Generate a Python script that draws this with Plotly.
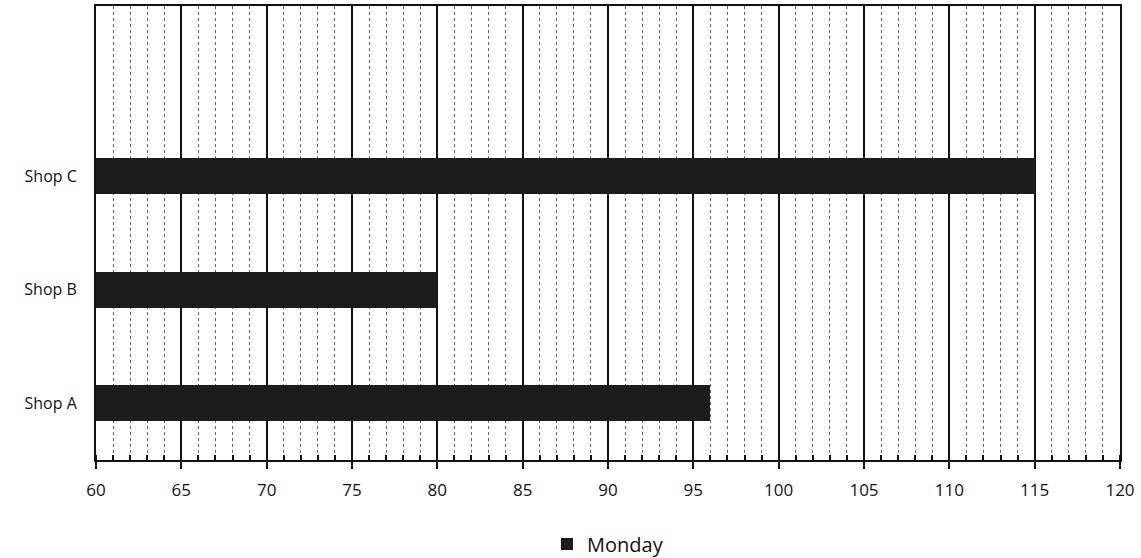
import plotly.graph_objects as go

categories = ["Shop A", "Shop B", "Shop C"]
monday = [96, 80, 115]
x_ticks = list(range(60, 121, 5))

fig = go.Figure()
fig.add_trace(go.Bar(
    y=categories, x=monday, base=0, orientation="h", name="Monday",
    marker=dict(color="#1c1c1c", line=dict(width=0)), width=0.32,
))

fig.update_layout(
    width=1141, height=558,
    margin=dict(l=96, r=21, t=6, b=98, autoexpand=False),
    paper_bgcolor="white", plot_bgcolor="white",
    font=dict(family="Open Sans, Liberation Sans, sans-serif", color="#111", size=15),
    showlegend=True,
    legend=dict(orientation="h", x=0.5, xanchor="center", y=-0.185, yanchor="middle",
                font=dict(size=20)),
    bargap=0,
)
fig.update_xaxes(
    range=[60, 120], tickvals=x_ticks, ticktext=[str(v) for v in x_ticks],
    showgrid=True, gridcolor="#111", gridwidth=2,
    ticks="outside", ticklen=7, tickwidth=2, tickcolor="#111",
    showline=True, linecolor="#111", linewidth=2, mirror=True,
    zeroline=False, ticklabelstandoff=7,
    minor=dict(dtick=1, tick0=60, showgrid=True, gridcolor="#666", griddash="dot",
               gridwidth=1, ticks="inside", ticklen=5, tickwidth=2, tickcolor="#111"),
    tickfont=dict(size=17),
)
fig.update_yaxes(
    categoryorder="array", categoryarray=categories,
    range=[-0.5, 3.5], showgrid=False,
    showline=True, linecolor="#111", linewidth=2, mirror=True,
    ticks="", ticklabelstandoff=14, tickfont=dict(size=16),
    zeroline=False,
)

fig.write_html("out.html", config={"displayModeBar": False})
with open("out.html", encoding="utf-8") as f:
    html = f.read()
html = html.replace("<body>", '<body style="margin:0;overflow:hidden">', 1)
with open("out.html", "w", encoding="utf-8") as f:
    f.write(html)
